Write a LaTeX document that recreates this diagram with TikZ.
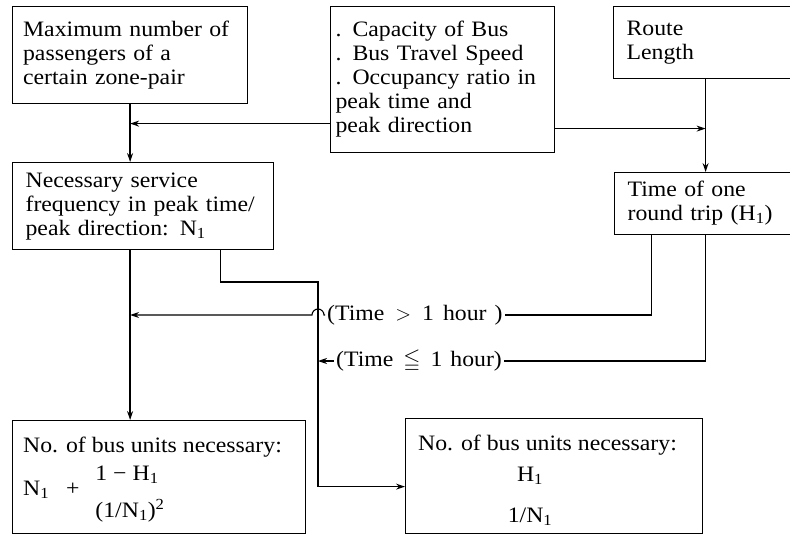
\documentclass[tikz,border=0pt]{standalone}
\usepackage{amssymb}
\usepackage{fontspec}
\setmainfont{Liberation Serif}[FakeStretch=1.08]
\usetikzlibrary{arrows.meta,calc}
% strut giving every text line the same height and depth
\newcommand\tstrut{\rule[-7pt]{0pt}{24pt}}
\newcommand\sub[1]{\textsubscript{#1}}
\begin{document}
\begin{tikzpicture}[x=1pt,y=1pt,
  every node/.style={font=\fontsize{22}{24}\selectfont},
  box/.style={draw, line width=1.2pt, inner xsep=13pt, inner ysep=0pt,
              align=left, anchor=north west},
  txt/.style={inner sep=0pt},
  cond/.style={inner xsep=2pt, inner ysep=0pt, anchor=west},
  tip/.style={-{Stealth[length=9pt,width=6pt]}},
  hline/.style={line width=1.1pt},
  vline/.style={line width=1.6pt}]
\useasboundingbox (0,0) rectangle (790,-535);

% input boxes
\node[box, text width=214pt, minimum width=235pt, minimum height=97pt, inner xsep=10.5pt] (A) at (12,-6)
  {\tstrut Maximum number of\\passengers of a\\certain zone-pair\tstrut};
\node[box, inner xsep=5pt, text width=214pt, minimum width=224pt, minimum height=146pt] (B) at (330,-6)
  {\tstrut . Capacity of Bus\\. Bus Travel Speed\\. Occupancy ratio in\\peak time and\\peak direction\tstrut};
\node[box, text width=158pt, minimum width=184pt, minimum height=72pt] (C) at (613,-6)
  {\tstrut Route\\Length\tstrut};

% intermediate results
\node[box, text width=235pt, minimum width=261pt, minimum height=87pt] (D) at (12,-162)
  {\tstrut Necessary service\\frequency in peak time/\\peak direction: N\sub{1}\tstrut};
\node[box, text width=156pt, minimum width=182pt, minimum height=62pt] (E) at (614,-172)
  {\tstrut Time of one\\round trip (H\sub{1})\tstrut};

% result boxes
\node[box, minimum width=293pt, minimum height=113pt] (G) at (12,-420) {};
\node[box, minimum width=297pt, minimum height=115pt] (F) at (405,-418) {};

\node[txt, anchor=base west] (g1) at (23,-452) {No. of bus units necessary:};
\node[txt, anchor=base west] (g2) at (23,-495) {N\sub{1}\hspace{17pt}+};
\node[txt, anchor=base] (g3) at (127,-480) {1 − H\sub{1}};
\node[txt, anchor=base] (g4) at (130,-517) {(1/N\sub{1})\textsuperscript{2}};

\node[txt, anchor=base west] (f1) at (418,-450) {No. of bus units necessary:};
\node[txt, anchor=base] (f2) at (530,-481) {H\sub{1}};
\node[txt, anchor=base] (f3) at (530,-522) {1/N\sub{1}};

% condition labels
\node[cond] (L1) at (325,-315) {(Time\hspace{11pt}$>$\hspace{11pt}1\hspace{9pt}hour\hspace{8pt})};
\node[cond] (L2) at (334,-361) {(Time\hspace{10pt}$\leqq$\hspace{10pt}1\hspace{8pt}hour)};

% bend point of the line from D towards F
\coordinate (j1) at (318,-282);

% main flow
\draw[vline,tip] (A.south) -- (A.south |- D.north);
\draw[hline,tip] ([yshift=-44pt]B.west) -- ([yshift=-44pt]B.west -| A.south);
\draw[hline,tip] ([yshift=-49pt]B.east) -- ([yshift=-49pt]B.east -| C.south);
\draw[vline,tip] (C.south) -- (E.north);
\draw[vline,tip] (A.south |- D.south) -- (A.south |- G.north);

% branch to the second formula
\draw[hline,tip] ([xshift=77.5pt]D.south) |- (j1) |- ([yshift=-10.5pt]F.west);

% round trip time compared with one hour
\draw[hline] ([xshift=-54pt]E.south) |- (L1.east);
\draw[hline] (E.south) |- (L2.east);
\draw[hline,tip] (L1.west) -- ([xshift=6pt]j1 |- L1.west)
  arc[start angle=0,end angle=180,radius=6pt] -- (A.south |- L1.west);
\draw[hline,tip] (L2.west) -- (j1 |- L2.west);
\end{tikzpicture}
\end{document}
